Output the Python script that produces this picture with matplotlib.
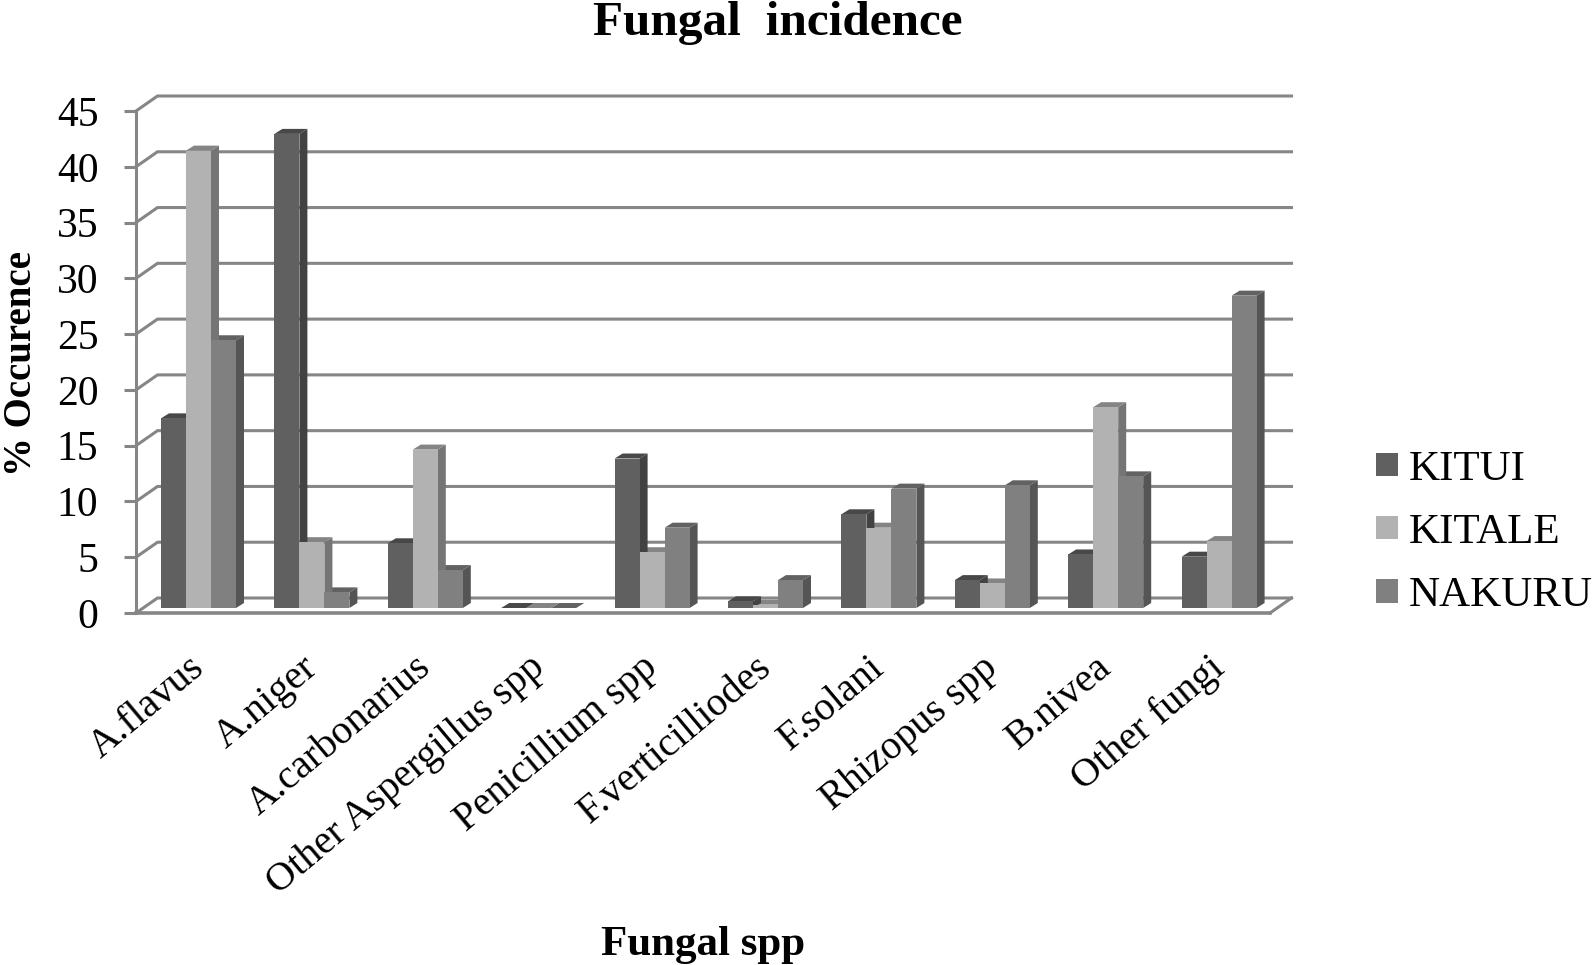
import matplotlib
matplotlib.use("Agg")
import matplotlib.pyplot as plt
from matplotlib.patches import Polygon, Patch
from matplotlib.transforms import ScaledTranslation
import numpy as np

categories = ["A.flavus", "A.niger", "A.carbonarius", "Other Aspergillus spp",
              "Penicillium spp", "F.verticilliodes", "F.solani", "Rhizopus spp",
              "B.nivea", "Other fungi"]
kitui = [17, 42.5, 5.8, 0, 13.4, 0.6, 8.4, 2.5, 4.8, 4.6]
kitale = [41, 5.9, 14.2, 0, 5, 0.3, 7.2, 2.2, 18, 6]
nakuru = [24, 1.4, 3.4, 0, 7.2, 2.5, 10.7, 11, 11.8, 28]
series_names = ["KITUI", "KITALE", "NAKURU"]
yticks = [0, 5, 10, 15, 20, 25, 30, 35, 40, 45]

FACE = ["#606060", "#b2b2b2", "#808080"]
SIDE = ["#424242", "#757575", "#555555"]
TOP = ["#484848", "#848484", "#626262"]
GRID = "#868686"
W, H = 1595, 965
plt.rcParams["font.family"] = ["Liberation Serif", "DejaVu Serif"]

fig = plt.figure(figsize=(W / 100, H / 100), dpi=100, facecolor="white")
L, R, T, B = 136, 1270, 111, 613
ax = fig.add_axes([L / W, 1 - B / H, (R - L) / W, (B - T) / H])
ax.set_xlim(0, len(categories))
ax.set_ylim(0, 45)
ax.patch.set_alpha(0)
ux, uy = (R - L) / len(categories), (B - T) / 45  # px per data unit


def px(dx=0.0, dy=0.0):
    return dx / ux, dy / uy


# back wall grid and floor
wx, wy = px(21.5, 15)
for v in yticks:
    ax.plot([0, wx, len(categories) + wx], [v, v + wy, v + wy], color=GRID, lw=2.2,
            clip_on=False, zorder=1, solid_joinstyle="miter")
ax.plot([len(categories), len(categories) + wx], [0, wy], color=GRID, lw=2.2, clip_on=False, zorder=1)
ax.plot([0, len(categories)], [0, 0], color=GRID, lw=2.6, clip_on=False, zorder=1)

# 3-D looking bars
bw, _ = px(25)
x0, _ = px(25)
base_off = px(0, 5)[1]
dx, dy = px(8, 5)
for i in range(len(categories)):
    start = i + x0
    # draw from right to left so that the nearer faces stay clean
    for j, vals in reversed(list(enumerate([kitui, kitale, nakuru]))):
        v = vals[i] + base_off
        left = start + j * bw
        right = left + bw
        b = base_off
        ax.add_patch(Polygon([(right, b), (right + dx, b + dy), (right + dx, v + dy), (right, v)],
                             fc=SIDE[j], ec="none", zorder=3 + i, clip_on=False))
        ax.add_patch(Polygon([(left, v), (left + dx, v + dy), (right + dx, v + dy), (right, v)],
                             fc=TOP[j], ec="none", zorder=3 + i, clip_on=False))
        if vals[i] > 0:
            ax.add_patch(Polygon([(left, b), (left, v), (right, v), (right, b)],
                                 fc=FACE[j], ec="none", zorder=3 + i + 0.5 - j * 0.1, clip_on=False))

for s in ["top", "right", "bottom"]:
    ax.spines[s].set_visible(False)
ax.spines["left"].set_color(GRID)
ax.spines["left"].set_linewidth(2.2)
ax.set_yticks(yticks)
ax.tick_params(axis="y", length=9, width=2.2, color=GRID, labelsize=30, pad=18, labelcolor="black")
ax.set_xticks(np.arange(len(categories)) + 0.5)
ax.set_xticklabels(categories, rotation=40, ha="right", rotation_mode="anchor", fontsize=29)
ax.tick_params(axis="x", length=0, pad=26)
shift = ScaledTranslation(-5 / 100, 0, fig.dpi_scale_trans)
for lab in ax.get_xticklabels():
    lab.set_transform(lab.get_transform() + shift)

fig.text(778 / W, 1 - 23 / H, "Fungal  incidence", fontsize=35.5, fontweight="bold", ha="center", va="center")
fig.text(703 / W, 1 - 945 / H, "Fungal spp", fontsize=31, fontweight="bold", ha="center", va="center")
fig.text(22 / W, 1 - 363 / H, "% Occurence", fontsize=28, fontweight="bold", rotation=90, ha="center", va="center")

handles = [Patch(fc=c, ec="none") for c in FACE]
fig.legend(handles, series_names, loc="center left", bbox_to_anchor=(1376 / W, 1 - 533 / H), frameon=False,
           fontsize=31, handlelength=0.52, handleheight=0.45, handletextpad=0.23, labelspacing=0.57,
           borderpad=0, borderaxespad=0)

fig.savefig("out.png", dpi=100, facecolor="white")
